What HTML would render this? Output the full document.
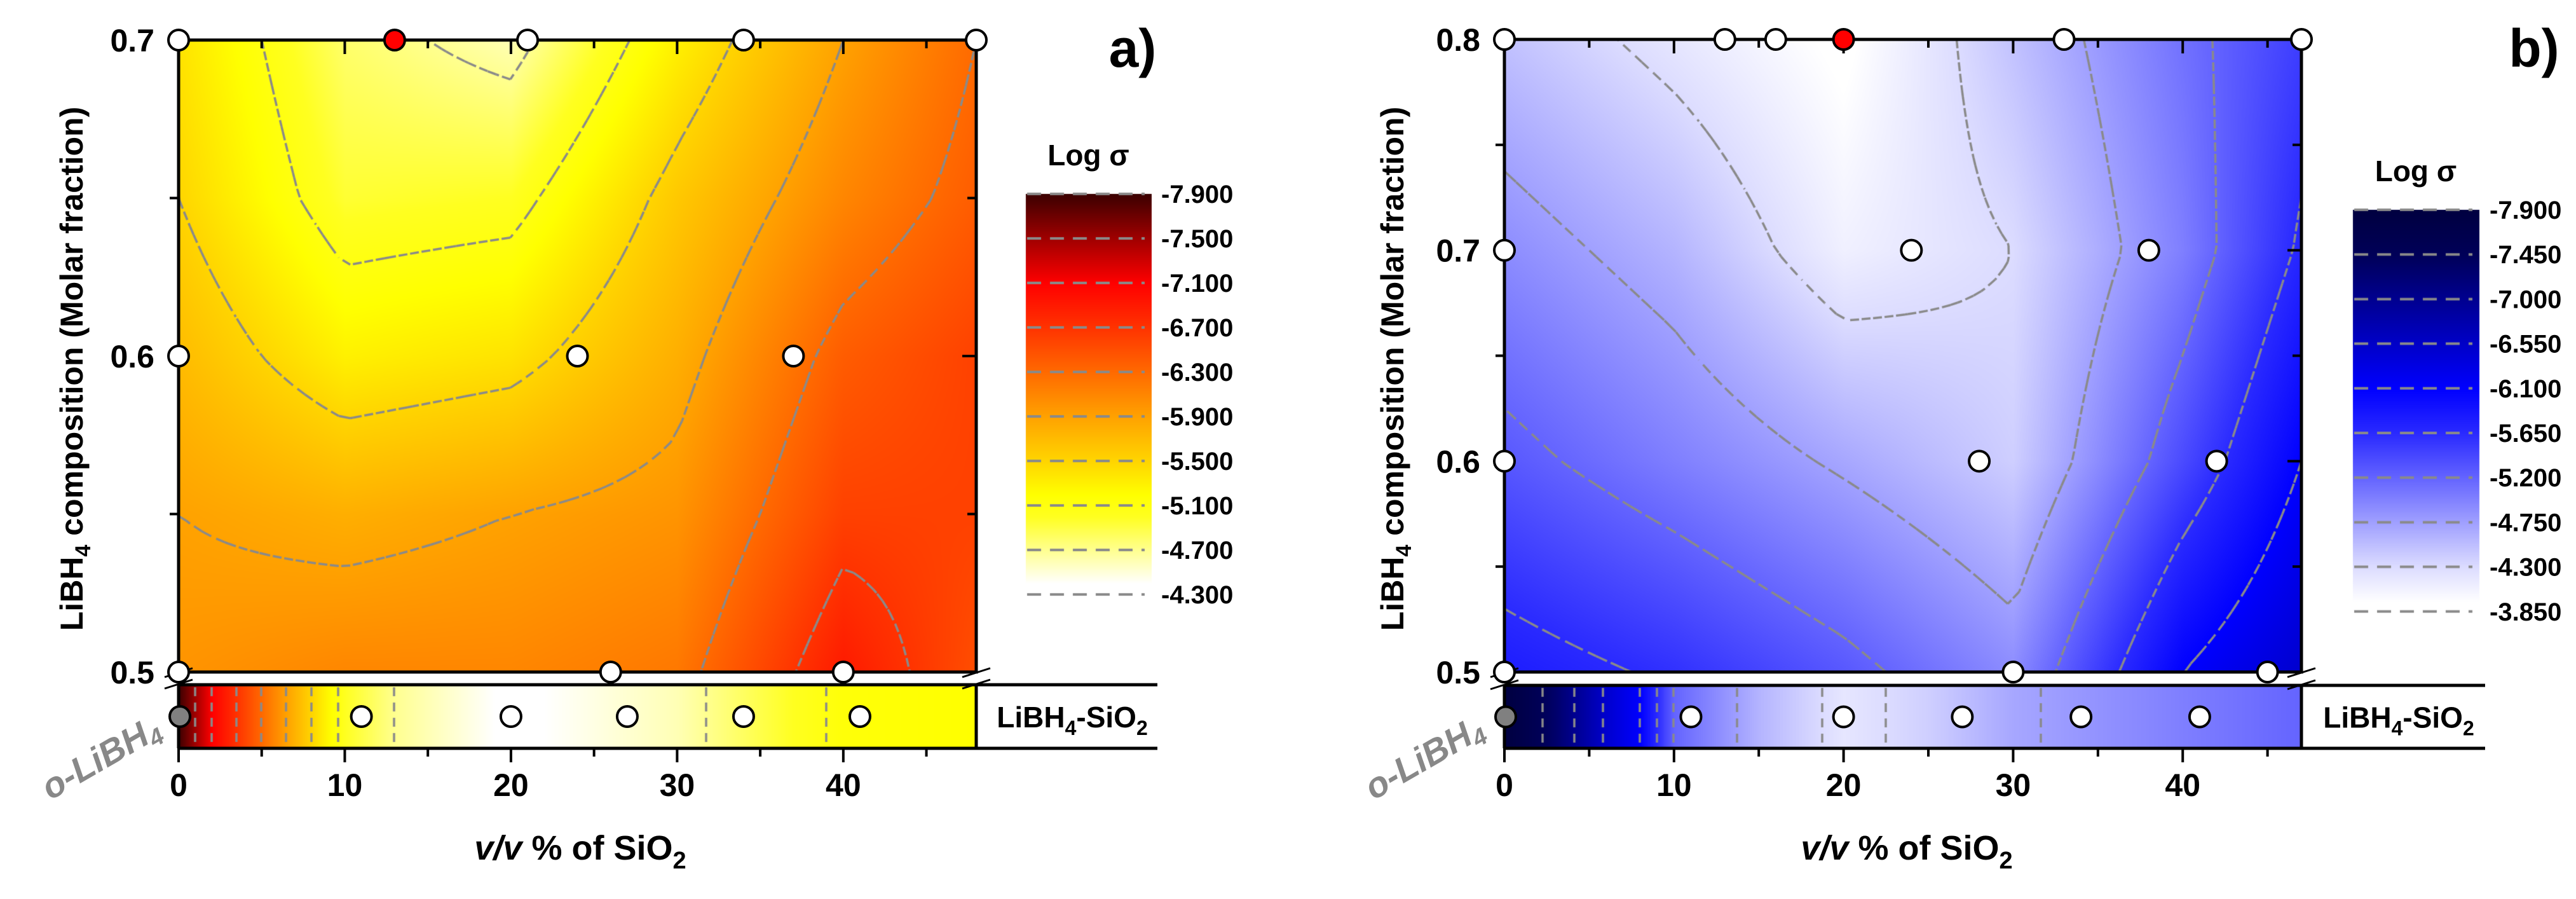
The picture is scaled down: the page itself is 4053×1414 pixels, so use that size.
<!DOCTYPE html>
<html><head><meta charset="utf-8">
<style>
html,body{margin:0;padding:0;background:#fff;}
#wrap{position:relative;width:4053px;height:1414px;overflow:hidden;}
canvas,svg{position:absolute;left:0;top:0;}
text{font-family:"Liberation Sans",Arial,sans-serif;font-weight:bold;}
</style></head>
<body>
<div id="wrap">
<canvas id="cv" width="4053" height="1414"></canvas>
<svg id="sv" width="4053" height="1414" xmlns="http://www.w3.org/2000/svg"></svg>
</div>
<script>
// ---------- DATA: panel a ----------
const aXNodes=[0,10,20,30,40,48];
const aYNodes=[0.5,0.55,0.6,0.65,0.7];
const aZ=[
 [-6.0,-6.1,-6.1,-6.2,-6.9,-6.5],
 [-5.9,-5.8,-5.9,-6.0,-6.6,-6.6],
 [-5.7,-5.3,-5.4,-5.8,-6.4,-6.6],
 [-5.5,-4.95,-5.0,-5.6,-6.1,-6.4],
 [-5.4,-4.8,-4.6,-5.3,-5.9,-6.3]];
const aStripX=[0,2,5,8,10,13,20,30,37,40,48];
const aStripZ=[-7.9,-7.1,-6.3,-5.5,-5.0,-4.7,-4.35,-4.6,-5.0,-5.15,-5.2];
const aPtsX=[0,13,21,34,48,0,24,37,0,26,40];
const aPtsY=[0.7,0.7,0.7,0.7,0.7,0.6,0.6,0.6,0.5,0.5,0.5];
const aPtsRed=[false,true,false,false,false,false,false,false,false,false,false];
const aStripPts=[11,20,27,34,41];
const aLevels=["-7.900","-7.500","-7.100","-6.700","-6.300","-5.900","-5.500","-5.100","-4.700","-4.300"];
const aCmapV=[-7.9,-7.5,-7.1,-6.7,-6.3,-5.9,-5.5,-5.2,-5.0,-4.7,-4.4];
const aCmapC=["#3c0000","#a00000","#ff0000","#ff3300","#ff6a00","#ffa200","#ffd500","#ffff00","#ffff20","#ffff90","#ffffff"];
const aXTicks=[0,10,20,30,40];
const aYTicks=["0.5","0.6","0.7"];
// ---------- DATA: panel b ----------
const bXNodes=[0,10,20,30,40,47];
const bYNodes=[0.5,0.6,0.7,0.8];
const bZ=[
 [-5.8,-5.6,-5.3,-4.9,-6.1,-6.5],
 [-5.3,-5.0,-4.7,-4.4,-5.4,-6.1],
 [-4.9,-4.6,-4.1,-4.3,-5.0,-5.7],
 [-4.5,-4.2,-3.9,-4.5,-5.1,-5.5]];
const bStripX=[0,3,6,8,10,15,20,25,30,40,47];
const bStripZ=[-7.9,-7.3,-6.5,-6.1,-5.2,-4.6,-4.2,-4.4,-4.7,-5.0,-5.2];
const bPtsX=[0,13,16,20,33,47,0,24,38,0,28,42,0,30,45];
const bPtsY=[0.8,0.8,0.8,0.8,0.8,0.8,0.7,0.7,0.7,0.6,0.6,0.6,0.5,0.5,0.5];
const bPtsRed=[false,false,false,true,false,false,false,false,false,false,false,false,false,false,false];
const bStripPts=[11,20,27,34,41];
const bLevels=["-7.900","-7.450","-7.000","-6.550","-6.100","-5.650","-5.200","-4.750","-4.300","-3.850"];
const bCmapV=[-7.9,-7.45,-7.0,-6.55,-6.1,-5.65,-5.2,-4.75,-4.3,-3.95];
const bCmapC=["#000040","#000058","#000090","#0000c8","#0000ff","#2a2aff","#6464ff","#a0a0ff","#dcdcff","#ffffff"];
const bXTicks=[0,10,20,30,40];
const bYTicks=["0.5","0.6","0.7","0.8"];

// ---------- layout ----------
const P=[
 {id:'a',xN:aXNodes,yN:aYNodes,Z:aZ,sx:aStripX,sz:aStripZ,px:aPtsX,py:aPtsY,pr:aPtsRed,sp:aStripPts,lv:aLevels,cv:aCmapV,cc:aCmapC,xt:aXTicks,yt:aYTicks,
  L:281,R:1536,T:63,B:1057,xmax:48,ymin:0.5,ymax:0.7,ST:1077,SB:1177,boxR:1821,
  cbL:1614,cbR:1811,cbT:305,cbSp:70.0,cbLab:1827,ylabX:112,xlabX:913,lab:'a)',labX:1782,stripLabX:1687,oX:168},
 {id:'b',xN:bXNodes,yN:bYNodes,Z:bZ,sx:bStripX,sz:bStripZ,px:bPtsX,py:bPtsY,pr:bPtsRed,sp:bStripPts,lv:bLevels,cv:bCmapV,cc:bCmapC,xt:bXTicks,yt:bYTicks,
  L:2367,R:3621,T:62,B:1057,xmax:47,ymin:0.5,ymax:0.8,ST:1078,SB:1177,boxR:3910,
  cbL:3702,cbR:3900,cbT:330,cbSp:70.2,cbLab:3917,ylabX:2190,xlabX:3000,lab:'b)',labX:3987,stripLabX:3774,oX:2250}
];

function hex(c){return [parseInt(c.substr(1,2),16),parseInt(c.substr(3,2),16),parseInt(c.substr(5,2),16)];}
function cmap(vs,cs,v){
  if(v<=vs[0])return hex(cs[0]);
  for(let i=0;i<vs.length-1;i++){if(v<=vs[i+1]){const t=(v-vs[i])/(vs[i+1]-vs[i]);const a=hex(cs[i]),b=hex(cs[i+1]);return [a[0]+(b[0]-a[0])*t,a[1]+(b[1]-a[1])*t,a[2]+(b[2]-a[2])*t];}}
  return hex(cs[cs.length-1]);
}
function seg(ns,x){let i=0;while(i<ns.length-2&&x>ns[i+1])i++;let t=(x-ns[i])/(ns[i+1]-ns[i]);t=Math.max(0,Math.min(1,t));return [i,t];}
function field(p,x,y){const [i,tx]=seg(p.xN,x),[j,ty]=seg(p.yN,y);const Z=p.Z;
  const a=Z[j][i]*(1-tx)+Z[j][i+1]*tx,b=Z[j+1][i]*(1-tx)+Z[j+1][i+1]*tx;return a*(1-ty)+b*ty;}
function strip(p,x){const [i,t]=seg(p.sx,x);return p.sz[i]*(1-t)+p.sz[i+1]*t;}

const cv=document.getElementById('cv'),ctx=cv.getContext('2d');
const img=ctx.createImageData(4053,1414);const D=img.data;
function setPx(x,y,c){const k=(y*4053+x)*4;D[k]=c[0];D[k+1]=c[1];D[k+2]=c[2];D[k+3]=255;}
for(let k=0;k<D.length;k+=4){D[k]=D[k+1]=D[k+2]=D[k+3]=255;}
P.forEach(p=>{
  const X=px=>(px-p.L)/(p.R-p.L)*p.xmax, Y=py=>p.ymin+(p.B-py)/(p.B-p.T)*(p.ymax-p.ymin);
  for(let py=p.T;py<=p.B;py++){const yv=Y(py);for(let px=p.L;px<=p.R;px++){setPx(px,py,cmap(p.cv,p.cc,field(p,X(px),yv)));}}
  for(let px=p.L;px<=p.R;px++){const c=cmap(p.cv,p.cc,strip(p,X(px)));for(let py=p.ST;py<=p.SB;py++)setPx(px,py,c);}
  // colorbar
  const lvN=p.lv.map(Number);const step=lvN[1]-lvN[0];
  for(let py=p.cbT;py<p.cbT+p.cbSp*9;py++){const v=lvN[0]+(py-p.cbT)/p.cbSp*step;const c=cmap(p.cv,p.cc,v);for(let px=p.cbL;px<=p.cbR;px++)setPx(px,py,c);}
});
ctx.putImageData(img,0,0);

// contours
ctx.strokeStyle='#8a8a8a';ctx.lineWidth=3.5;ctx.setLineDash([14,10]);
P.forEach(p=>{
  const lvN=p.lv.map(Number);const s=18;
  const X=px=>(px-p.L)/(p.R-p.L)*p.xmax, Y=py=>p.ymin+(p.B-py)/(p.B-p.T)*(p.ymax-p.ymin);
  const nx=Math.ceil((p.R-p.L)/s),ny=Math.ceil((p.B-p.T)/s);
  const G=[];for(let j=0;j<=ny;j++){G.push([]);const py=Math.min(p.B,p.T+j*s);for(let i=0;i<=nx;i++){const px=Math.min(p.R,p.L+i*s);G[j].push(field(p,X(px),Y(py)));}}
  const gx=i=>Math.min(p.R,p.L+i*s),gy=j=>Math.min(p.B,p.T+j*s);
  lvN.forEach(l=>{
    for(let j=0;j<ny;j++)for(let i=0;i<nx;i++){
      const v=[G[j][i],G[j][i+1],G[j+1][i+1],G[j+1][i]];
      const c=[[gx(i),gy(j)],[gx(i+1),gy(j)],[gx(i+1),gy(j+1)],[gx(i),gy(j+1)]];
      const pts=[];
      for(let e=0;e<4;e++){const a=v[e],b=v[(e+1)%4];if((a-l)*(b-l)<0){const t=(l-a)/(b-a);const A=c[e],B=c[(e+1)%4];pts.push([A[0]+(B[0]-A[0])*t,A[1]+(B[1]-A[1])*t]);}}
      for(let q=0;q+1<pts.length;q+=2){ctx.beginPath();ctx.moveTo(pts[q][0],pts[q][1]);ctx.lineTo(pts[q+1][0],pts[q+1][1]);ctx.stroke();}
    }
    // strip crossings
    for(let px=p.L;px<p.R;px++){const a=strip(p,X(px)),b=strip(p,X(px+1));if((a-l)*(b-l)<0||a===l){ctx.beginPath();ctx.moveTo(px,p.ST+4);ctx.lineTo(px,p.SB);ctx.stroke();}}
  });
  // colorbar dashes
  ctx.setLineDash([22,14]);ctx.lineWidth=4;
  lvN.forEach((l,k)=>{const y=p.cbT+k*p.cbSp;ctx.beginPath();ctx.moveTo(p.cbL+2,y);ctx.lineTo(p.cbR-10,y);ctx.stroke();});
  ctx.setLineDash([14,10]);ctx.lineWidth=3.5;
});

// ---------- SVG overlay ----------
const sv=document.getElementById('sv');const NS='http://www.w3.org/2000/svg';
function el(tag,attrs,parent){const e=document.createElementNS(NS,tag);for(const k in attrs)e.setAttribute(k,attrs[k]);(parent||sv).appendChild(e);return e;}
P.forEach(p=>{
  const g=el('g',{});
  
  
  const xs=v=>p.L+v/p.xmax*(p.R-p.L), ys=v=>p.B-(v-p.ymin)/(p.ymax-p.ymin)*(p.B-p.T);
  const ln=(x1,y1,x2,y2,w)=>el('line',{x1,y1,x2,y2,stroke:'#000','stroke-width':w||5},g);
  // frame
  const f=el('path',{d:`M${p.L},${p.B} L${p.L},${p.T} L${p.R},${p.T} L${p.R},${p.B} Z`,fill:'none',stroke:'#000','stroke-width':5},g);
  
  // strip box
  ln(p.L,p.ST,p.boxR,p.ST,5);ln(p.L,p.SB,p.boxR,p.SB,5);ln(p.L,p.ST,p.L,p.SB,5);ln(p.R,p.ST,p.R,p.SB,5);
  // break marks
  [p.L,p.R].forEach(bx=>{
    el('rect',{x:bx-12,y:p.B+3,width:24,height:p.ST-p.B-6,fill:'#fff'},g);
    ln(bx-22,p.B+8,bx+22,p.B-6,3);ln(bx-22,p.ST+6,bx+22,p.ST-8,3);
  });
  // x ticks
  for(let v=0;v<=p.xmax;v+=5){const major=v%10===0;ln(xs(v),p.SB,xs(v),p.SB+(major?22:13),4);ln(xs(v),p.T,xs(v),p.T+(major?22:13),4);}
  p.xt.forEach(v=>{const t=el('text',{x:xs(v),y:p.SB+75,'font-size':50,'text-anchor':'middle'},g);t.textContent=v;
    });
  // y ticks
  for(let v=p.ymin;v<=p.ymax+1e-9;v+=0.05){const y=ys(v);const major=Math.abs(v*10-Math.round(v*10))<1e-6;ln(p.L-(major?0:14),y,p.L,y,4);ln(p.R-(major?22:14),y,p.R,y,4);}
  p.yt.forEach(s=>{const t=el('text',{x:p.L-38,y:ys(Number(s))+18,'font-size':50,'text-anchor':'end'},g);t.textContent=s;
    });
  // markers
  p.px.forEach((x,i)=>{const c=el('circle',{cx:xs(x),cy:ys(p.py[i]),r:16,fill:p.pr[i]?'#ff0000':'#fff',stroke:'#000','stroke-width':4},g);
    });
  const sy=(p.ST+p.SB)/2;
  const og=el('circle',{cx:xs(0)+2,cy:sy,r:16,fill:'#808080',stroke:'#000','stroke-width':4},g);
  
  p.sp.forEach(x=>{const c=el('circle',{cx:xs(x),cy:sy,r:16,fill:'#fff',stroke:'#000','stroke-width':4},g);
    });
  // strip label
  const sl=el('text',{x:p.stripLabX,y:sy+17,'font-size':46,'text-anchor':'middle'},g);
  sl.innerHTML='LiBH<tspan font-size="32" dy="12">4</tspan><tspan dy="-12">-SiO</tspan><tspan font-size="32" dy="12">2</tspan>';
  
  // o-LiBH4
  const ot=el('text',{x:0,y:0,'font-size':56,fill:'#888','font-style':'italic','text-anchor':'middle',transform:`translate(${p.oX},${1208}) rotate(-30)`},g);
  ot.innerHTML='o-LiBH<tspan font-size="38" dy="10">4</tspan>';
  
  // axis titles
  const xl=el('text',{x:p.xlabX,y:1352,'font-size':54,'text-anchor':'middle'},g);
  xl.innerHTML='<tspan font-style="italic">v/v</tspan> % of SiO<tspan font-size="38" dy="14">2</tspan>';
  
  const yl=el('text',{x:0,y:0,'font-size':50,'text-anchor':'middle',transform:`translate(${p.ylabX+18},580) rotate(-90)`},g);
  yl.innerHTML='LiBH<tspan font-size="34" dy="12">4</tspan><tspan dy="-12"> composition (Molar fraction)</tspan>';
  
  // panel label
  const pl=el('text',{x:p.labX,y:105,'font-size':84,'text-anchor':'middle'},g);pl.textContent=p.lab;
  
  // colorbar title + labels
  const ct=el('text',{x:(p.cbL+p.cbR)/2,y:p.cbT-45,'font-size':46,'text-anchor':'middle'},g);ct.textContent='Log σ';
  
  p.lv.forEach((s,k)=>{const t=el('text',{x:p.cbLab,y:p.cbT+k*p.cbSp+14,'font-size':40},g);t.textContent=s;
    });
});
</script>
</body></html>
